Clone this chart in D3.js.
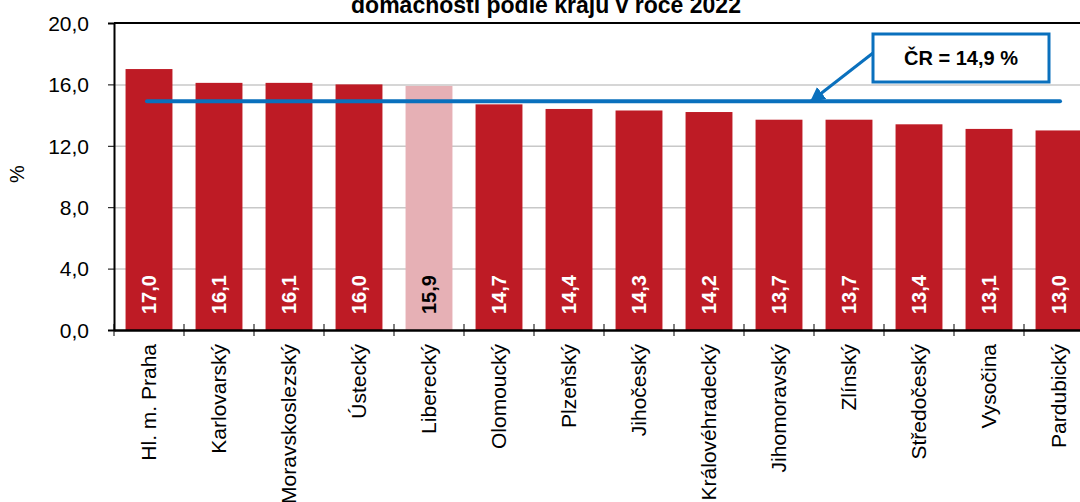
<!DOCTYPE html>
<html>
<head>
<meta charset="utf-8">
<script src="https://d3js.org/d3.v7.min.js"></script>
<style>
  body { margin: 0; background: #fff; }
  svg { display: block; font-family: "Liberation Sans", Arial, sans-serif; }
</style>
</head>
<body>
<script>
  // data
  var regions = ["Hl. m. Praha", "Karlovarský", "Moravskoslezský", "Ústecký", "Liberecký",
                 "Olomoucký", "Plzeňský", "Jihočeský", "Královéhradecký", "Jihomoravský",
                 "Zlínský", "Středočeský", "Vysočina", "Pardubický"];
  var values = [17.0, 16.1, 16.1, 16.0, 15.9, 14.7, 14.4, 14.3, 14.2, 13.7, 13.7, 13.4, 13.1, 13.0];
  var highlight = "Liberecký";
  var crValue = 14.9;
  var yTicks = [0, 4, 8, 12, 16, 20];
  var title = "domácností podle krajů v roce 2022";

  var width = 1080, height = 502;
  var plotLeft = 114, plotTop = 23, plotBottom = 330, plotRight = 1094;

  var svg = d3.select("body").append("svg")
      .attr("width", width)
      .attr("height", height);

  var x = d3.scaleBand().domain(regions).range([plotLeft, plotRight]).paddingInner(0.33).paddingOuter(0.165);
  var y = d3.scaleLinear().domain([0, 20]).range([plotBottom, plotTop]);
  var comma = function (v) { return d3.format(".1f")(v).replace(".", ","); };

  // title (top part is cut off in the source)
  svg.append("text")
      .attr("x", 546).attr("y", 13)
      .attr("text-anchor", "middle")
      .style("font-size", "23px").style("font-weight", "bold")
      .text(title);

  // gridlines
  svg.append("g").selectAll("line")
      .data(yTicks.slice(1, -1))
      .enter().append("line")
        .attr("x1", plotLeft).attr("x2", width)
        .attr("y1", function (d) { return y(d) + 0.5; })
        .attr("y2", function (d) { return y(d) + 0.5; })
        .attr("stroke", "#c8c8c8").attr("stroke-width", 1.5);

  // frame top
  svg.append("line")
      .attr("x1", plotLeft).attr("x2", width)
      .attr("y1", plotTop).attr("y2", plotTop)
      .attr("stroke", "#000").attr("stroke-width", 2);

  // bars
  svg.append("g").selectAll("rect")
      .data(regions)
      .enter().append("rect")
        .attr("x", function (d) { return x(d); })
        .attr("width", x.bandwidth())
        .attr("y", function (d, i) { return y(values[i]); })
        .attr("height", function (d, i) { return y(0) - y(values[i]); })
        .attr("fill", function (d) { return d === highlight ? "#e6b0b5" : "#be1b25"; });

  // value labels inside bars
  svg.append("g").selectAll("text")
      .data(regions)
      .enter().append("text")
        .attr("transform", function (d) {
          return "translate(" + (x(d) + x.bandwidth() / 2 + 7) + "," + (plotBottom - 16) + ") rotate(-90)";
        })
        .style("font-size", "20px").style("font-weight", "bold")
        .attr("fill", function (d) { return d === highlight ? "#000" : "#fff"; })
        .text(function (d, i) { return comma(values[i]); });

  // y axis
  var yAxis = d3.axisLeft(y).tickValues(yTicks).tickSize(6).tickFormat(comma);
  var gy = svg.append("g").attr("transform", "translate(" + plotLeft + ",0)").call(yAxis);
  gy.select(".domain").attr("stroke", "#000").attr("stroke-width", 2);
  gy.selectAll(".tick line").attr("stroke", "#000");
  gy.selectAll(".tick text").attr("x", -25).attr("dy", "0.35em")
      .style("font-size", "21px").attr("fill", "#000");

  svg.append("text")
      .attr("transform", "translate(24,174) rotate(-90)")
      .attr("text-anchor", "middle")
      .style("font-size", "20px")
      .text("%");

  // x axis
  var xAxis = d3.axisBottom(x).tickSize(0);
  var gx = svg.append("g").attr("transform", "translate(0," + plotBottom + ")").call(xAxis);
  gx.select(".domain").attr("stroke", "#000").attr("stroke-width", 2.5);
  gx.selectAll(".tick text")
      .attr("transform", "rotate(-90)")
      .attr("x", -14).attr("y", 0).attr("dy", "0.35em")
      .attr("text-anchor", "end")
      .style("font-size", "21px").attr("fill", "#000");
  var step = x.step();
  svg.append("g").selectAll("line")
      .data(d3.range(regions.length))
      .enter().append("line")
        .attr("x1", function (i) { return plotLeft + i * step; })
        .attr("x2", function (i) { return plotLeft + i * step; })
        .attr("y1", plotBottom - 6).attr("y2", plotBottom + 6)
        .attr("stroke", "#000");

  // ČR average line
  var blue = "#0a70bd";
  var first = regions[0];
  svg.append("line")
      .attr("x1", x(first) + x.bandwidth() / 2 - 2)
      .attr("x2", 1060)
      .attr("y1", y(crValue)).attr("y2", y(crValue))
      .attr("stroke", blue).attr("stroke-width", 4)
      .attr("stroke-linecap", "round");

  // callout
  svg.append("defs").append("marker")
      .attr("id", "arr").attr("viewBox", "0 0 10 10")
      .attr("refX", 9).attr("refY", 5)
      .attr("markerWidth", 5).attr("markerHeight", 5)
      .attr("orient", "auto")
    .append("path").attr("d", "M0,0 L10,5 L0,10 z").attr("fill", blue);

  svg.append("line")
      .attr("x1", 873).attr("y1", 53)
      .attr("x2", 811).attr("y2", y(crValue))
      .attr("stroke", blue).attr("stroke-width", 3)
      .attr("marker-end", "url(#arr)");

  svg.append("rect")
      .attr("x", 873).attr("y", 34)
      .attr("width", 176).attr("height", 48)
      .attr("fill", "#fff").attr("stroke", blue).attr("stroke-width", 3);

  svg.append("text")
      .attr("x", 961).attr("y", 65)
      .attr("text-anchor", "middle")
      .style("font-size", "20px").style("font-weight", "bold")
      .text("ČR = " + comma(crValue) + " %");
</script>
</body>
</html>
